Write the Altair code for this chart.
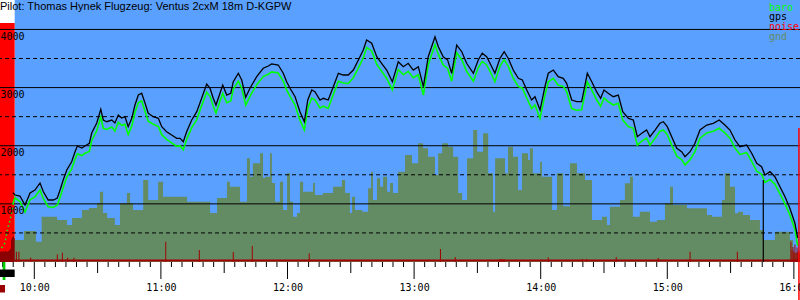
import altair as alt
import pandas as pd

TITLE = "Pilot: Thomas Hynek Flugzeug: Ventus 2cxM 18m D-KGPW"

# time axis: minutes after 10:00
t_track = [-10.2, -9.1, -6.8, -4.4, -2.0, 0.3, 2.7, 4.3, 6.6, 9.0, 10.9, 12.2, 13.7, 15.4, 17.7, 19.3, 20.4,
           22.5, 24.0, 26.1, 27.2, 29.6, 31.5, 32.7, 34.3, 36.7, 38.2, 39.8, 41.4, 43.0, 44.5, 46.2, 47.7,
           49.3, 50.9, 52.5, 54.0, 56.4, 58.8, 60.4, 62.7, 65.1, 67.5, 69.1, 70.6, 72.2, 74.6, 77.0, 79.3,
           81.7, 83.3, 84.8, 86.1, 88.0, 89.3, 91.2, 93.1, 94.3, 96.7, 98.3, 100.2, 102.2, 105.4, 108.5,
           110.9, 112.5, 115.6, 118.0, 119.6, 121.2, 123.6, 125.9, 128.0, 129.6, 131.5, 133.0, 135.4, 137.0,
           139.3, 141.7, 144.1, 146.4, 148.8, 151.2, 153.6, 155.9, 157.5, 159.9, 162.3, 164.6, 167.0, 169.7,
           172.5, 174.9, 177.2, 179.6, 182.0, 184.4, 186.7, 188.3, 189.9, 191.5, 193.8, 195.9, 197.8, 200.2,
           202.6, 204.9, 208.1, 210.4, 212.3, 214.4, 216.8, 218.3, 220.7, 222.7, 224.6, 227.0, 229.4, 231.3,
           233.4, 235.7, 237.3, 239.7, 242.0, 243.6, 246.0, 248.3, 250.7, 252.3, 254.7, 257.1, 259.4, 261.0,
           262.1, 264.2, 266.5, 268.4, 270.0, 272.0, 274.4, 276.8, 278.9, 281.5, 283.9, 285.8, 287.9, 290.2,
           291.8, 294.2, 296.5, 298.1, 300.0, 302.1, 304.5, 306.8, 308.4, 310.8, 313.1, 315.5, 318.7, 321.8,
           324.6, 327.3, 329.7, 332.1, 334.4, 337.6, 340.0, 342.4, 344.7, 346.3, 348.7, 351.0, 353.4, 355.8,
           358.1, 360.5, 361.8]

gps_alt = [1192, 1152, 1135, 980, 1187, 1238, 1359, 1209, 1066, 1066, 1101, 1238, 1410, 1582, 1725, 1897, 1995,
           1961, 1995, 2042, 2219, 2391, 2626, 2442, 2413, 2442, 2391, 2528, 2477, 2499, 2327, 2472, 2700,
           2872, 2902, 2730, 2558, 2499, 2472, 2327, 2241, 2184, 2128, 2128, 2069, 2241, 2442, 2585, 2816,
           3062, 2988, 2816, 2700, 2902, 3044, 2872, 2902, 3101, 3246, 3130, 2833, 2988, 3187, 3332,
           3371, 3406, 3388, 3246, 3101, 2988, 2843, 2585, 2413, 2786, 2958, 2929, 2786, 2816,
           2786, 3015, 3246, 3216, 3216, 3302, 3474, 3646, 3818, 3762, 3531, 3418, 3302, 3101,
           3445, 3359, 3418, 3302, 3359, 3015, 3531, 3703, 3875, 3703, 3531, 3474, 3246, 3732,
           3617, 3418, 3246, 3474, 3590, 3531, 3359, 3246, 3504, 3617, 3504, 3302, 3160, 3130,
           2958, 2786, 2843, 2614, 3015, 3246, 3302, 3187, 3160, 3074, 2786, 2757, 2757, 3044,
           3246, 3101, 2929, 2816, 2958, 2902, 2843, 2872, 2585, 2472, 2442, 2155, 2214, 2270,
           2155, 2270, 2386, 2413, 2327, 2155, 1956, 1897, 1811, 1897, 2042, 2270, 2356, 2386,
           2442, 2356, 2270, 2098, 1983, 2012, 1870, 1698, 1639, 1496, 1553, 1467, 1295, 1123,
           924, 666, 413]

baro_alt = [1000, 1100, 1040, 860, 1070, 1120, 1240, 1090, 950, 940, 980, 1110, 1280, 1460, 1600, 1770, 1860,
            1830, 1870, 1900, 2090, 2260, 2490, 2300, 2280, 2320, 2250, 2400, 2350, 2370, 2190, 2340, 2570,
            2740, 2770, 2590, 2420, 2370, 2330, 2190, 2110, 2050, 1990, 2000, 1930, 2110, 2310, 2450, 2690,
            2920, 2850, 2680, 2560, 2770, 2900, 2740, 2770, 2970, 3110, 2990, 2700, 2850, 3050, 3190,
            3230, 3270, 3250, 3110, 2960, 2850, 2700, 2440, 2270, 2650, 2820, 2790, 2650, 2680,
            2640, 2880, 3110, 3080, 3070, 3170, 3340, 3510, 3690, 3630, 3400, 3280, 3160, 2960,
            3310, 3220, 3280, 3170, 3220, 2870, 3390, 3570, 3740, 3570, 3390, 3330, 3110, 3600,
            3480, 3280, 3110, 3340, 3450, 3390, 3220, 3100, 3370, 3480, 3370, 3160, 3020, 2990,
            2820, 2640, 2700, 2470, 2870, 3100, 3160, 3040, 3020, 2930, 2640, 2610, 2620, 2900,
            3100, 2960, 2790, 2680, 2820, 2760, 2700, 2730, 2440, 2330, 2300, 2010, 2080, 2130,
            2010, 2130, 2250, 2270, 2190, 2010, 1820, 1760, 1670, 1760, 1900, 2130, 2220, 2250,
            2300, 2220, 2130, 1960, 1850, 1880, 1730, 1560, 1510, 1370, 1420, 1340, 1170, 1000,
            810, 560, 280]

# launch (dotted part of the barograph)
launch_t = [-15.5, -13.9, -12.8, -11.5, -10.4, -9.3]
launch_baro = [241, 327, 550, 722, 894, 1152]

# ground elevation under the track
gnd_t = [-9.6, -4.9, 0.8, 3.5, 10.8, 15.5, 17.9, 22.6, 25.9, 29.7, 31.1, 32.6, 34.5, 38.2, 40.6, 43.9, 45.4,
         46.8, 51.6, 54.0, 58.7, 61.0, 72.4, 83.3, 86.6, 91.3, 92.7, 97.5, 100.8, 102.2, 103.6, 107.0, 108.4,
         109.3, 111.7, 112.6, 114.1, 116.4, 117.9, 119.8, 121.2, 122.6, 124.5, 125.9, 127.4, 132.1, 133.0,
         136.8, 141.6, 145.8, 147.3, 149.6, 150.6, 152.0, 155.4, 158.2, 159.6, 160.5, 162.4, 163.9, 165.3,
         167.2, 168.6, 170.0, 172.4, 175.7, 179.0, 181.9, 184.3, 186.6, 189.9, 191.4, 193.3, 196.1, 198.5,
         200.9, 202.8, 205.1, 208.0, 209.9, 212.7, 215.1, 217.4, 218.4, 223.1, 224.5, 226.9, 229.3, 231.1,
         234.0, 234.9, 236.3, 239.7, 240.6, 245.4, 247.7, 250.6, 253.9, 257.2, 261.0, 264.3, 269.1, 271.4,
         272.8, 277.6, 279.9, 282.3, 283.7, 287.0, 291.8, 295.1, 298.9, 301.3, 302.7, 309.3, 318.8, 321.2,
         325.9, 327.3, 329.7, 332.1, 333.5, 335.9, 339.2, 343.9, 345.4, 351.0, 358.1, 359.6, 362.9]
gnd_alt = [378, 533, 349, 779, 722, 636, 757, 894, 929, 1015, 1209, 843, 757, 636, 1015, 1187, 1015,
           894, 1410, 1066, 1381, 1123, 1037, 843, 1101, 1381, 1295, 1037, 1784, 1467, 1698, 1870, 1445,
           1467, 1870, 1359, 1037, 1381, 894, 1526, 1037, 779, 843, 1381, 1209, 1359, 1153,
           1187, 1295, 1410, 1187, 843, 1123, 894, 865, 1268, 1553, 1066, 1440, 1295, 1467,
           1209, 1359, 1187, 1553, 1840, 1698, 2042, 1956, 1811, 1496, 1870, 2042, 1983, 1811,
           1187, 1066, 1784, 2270, 1897, 2214, 1526, 865, 1784, 1526, 1983, 1811, 1238, 1870,
           1754, 1956, 1526, 1725, 1467, 894, 1526, 957, 1698, 1526, 1410, 722, 779, 636,
           951, 1066, 1354, 1467, 779, 865, 693, 722, 1010, 1295, 980, 924, 808, 779,
           1066, 1526, 1295, 838, 865, 808, 722, 550, 378, 521, 378, 155, 155]

# engine / noise recording
tow_noise_t = [-16.26, -15.78, -15.31, -14.83, -14.36, -13.89, -13.41, -12.94, -12.46, -11.99, -11.52,
               -11.04, -10.57, -10.09, -9.62, -9.3]
tow_noise_v = [170, 190, 175, 185, 180, 195, 180, 175, 190, 200, 230, 390, 430, 445, 410, 410]
spike_t = [-8.5, -7.3, -1.7, 10.9, 13.3, 15.8, 18.8, 62.3, 78.2, 94.3, 103.3, 130.3, 192.5, 199.5, 220.7,
           221.7, 222.6, 243.6, 259.7, 261.8, 275.8, 295.7, 310.8, 333.2,
           358.6, 359.1, 359.6, 360.0, 360.5, 361.0, 361.5, 361.9, 362.4, 362.9]
spike_v = [177, 177, 74, 132, 160, 74, 74, 349, 206, 172, 275, 150, 224, 86, 52,
           52, 52, 81, 52, 52, 86, 69, 177, 177,
           349, 206, 260, 180, 300, 160, 250, 180, 200, 150]
noise_floor = 26

flight_start, flight_end = -9.3, 362.9
engine_top = 4111
finish_t, finish_alt = 345.5, 1410
landing_t, landing_top, landing_bottom = 362.4, 2305, -654

solid_levels = [1000, 2000, 3000, 4000]
dashed_levels = [500, 1500, 2500, 3500]
hour_ticks = [0, 60, 120, 180, 240, 300, 360]
half_ticks = [-30, 30, 90, 150, 210, 270, 330]
minor_ticks = [m for m in range(-15, 361, 5) if m % 30 != 0]

legend_names = ["baro", "gps", "noise", "gnd"]
legend_colors = ["#00ff00", "#000000", "#ff0000", "#648c64"]

BLUE = "#5aa0ff"
GND = "#648c64"
DARKRED = "#a00000"

XDOM = [-16.26, 362.9]
YDOM = [0, 4506.4]

xs = alt.Scale(domain=XDOM, nice=False, zero=False)
ys = alt.Scale(domain=YDOM, nice=False, zero=False)

xaxis = alt.Axis(values=hour_ticks, labelExpr="(10 + floor(datum.value / 60)) + ':00'",
                 domain=False, ticks=False, tickSize=0, grid=False, title=None, labelFont="DejaVu Sans Mono",
                 labelFontSize=10, labelColor="black", labelPadding=28, labelBaseline="alphabetic",
                 labelFlush=False, labelOverlap=False, labelBound=False, zindex=2)
yaxis = alt.Axis(values=solid_levels, format="d", domain=False, ticks=False, tickSize=0, grid=False,
                 title=None, labelAlign="left", labelBaseline="alphabetic", labelPadding=0, labelOffset=10,
                 labelFont="DejaVu Sans Mono", labelFontSize=10, labelColor="black",
                 labelFlush=False, labelOverlap=False, labelBound=False, zindex=2)

X = lambda f: alt.X(f, type="quantitative", scale=xs, axis=None)
Y = lambda f: alt.Y(f, type="quantitative", scale=ys, axis=None)

track = pd.DataFrame({"t": t_track, "gps": gps_alt, "baro": baro_alt})
launch = pd.DataFrame({"t": launch_t, "baro": launch_baro})
gnd = pd.DataFrame({"t": gnd_t, "g": gnd_alt})
tow = pd.DataFrame({"t": tow_noise_t, "n": tow_noise_v})
spikes = pd.DataFrame({"t": spike_t, "n": spike_v})
one = pd.DataFrame({"a": [0]})

blue_bg = alt.Chart(pd.DataFrame({"t0": [flight_start], "t1": [XDOM[1]]})).mark_rect(color=BLUE).encode(
    x=alt.X("t0:Q", scale=xs, axis=xaxis), x2="t1:Q", y=alt.value(0), y2=alt.value(262))
red_bg = alt.Chart(pd.DataFrame({"t0": [XDOM[0]], "t1": [flight_start], "top": [engine_top]})).mark_rect(
    color="#ff0000").encode(x=X("t0"), x2="t1:Q", y=alt.Y("top:Q", scale=ys, axis=yaxis), y2=alt.datum(0))

gnd_area = alt.Chart(gnd).mark_area(color=GND, interpolate="step-after").encode(
    x=X("t"), y=Y("g"), y2=alt.datum(0))

tow_area = alt.Chart(tow).mark_area(color="#8b0000", interpolate="step-after").encode(
    x=X("t"), y=Y("n"), y2=alt.datum(0))
spike_rules = alt.Chart(spikes).mark_rule(color=DARKRED, strokeWidth=1).encode(
    x=X("t"), y=Y("n"), y2=alt.datum(0))
floor_line = alt.Chart(pd.DataFrame({"t0": [flight_start], "t1": [XDOM[1]], "n": [noise_floor]})).mark_rule(
    color=DARKRED, strokeWidth=2).encode(x=X("t0"), x2="t1:Q", y=Y("n"))

solid_grid = alt.Chart(pd.DataFrame({"lv": solid_levels})).mark_rule(color="black", strokeWidth=1).encode(
    y=Y("lv"))
dashed_grid = alt.Chart(pd.DataFrame({"lv": dashed_levels})).mark_rule(
    color="black", strokeWidth=1, strokeDash=[4, 3]).encode(y=Y("lv"))

launch_line = alt.Chart(launch).mark_line(color="#00ff00", strokeWidth=1.5, strokeDash=[1.5, 3]).encode(
    x=X("t"), y=Y("baro"))
baro_line = alt.Chart(track).mark_line(color="#00ff00", strokeWidth=1.6).encode(x=X("t"), y=Y("baro"))
gps_line = alt.Chart(track).mark_line(color="black", strokeWidth=1.3).encode(x=X("t"), y=Y("gps"))

finish_rule = alt.Chart(pd.DataFrame({"t": [finish_t], "v": [finish_alt]})).mark_rule(
    color="black", strokeWidth=1.2).encode(x=X("t"), y=Y("v"), y2=alt.datum(0))
landing_rule = alt.Chart(pd.DataFrame({"t": [landing_t], "v": [landing_top], "b": [landing_bottom]})).mark_rule(
    color="#ff0000", strokeWidth=1.5).encode(x=X("t"), y=Y("v"), y2="b:Q")

tick_minor = alt.Chart(pd.DataFrame({"t": minor_ticks})).mark_rule(color="black", strokeWidth=1).encode(
    x=X("t"), y=alt.value(262), y2=alt.value(267))
tick_half = alt.Chart(pd.DataFrame({"t": half_ticks})).mark_rule(color="black", strokeWidth=1).encode(
    x=X("t"), y=alt.value(262), y2=alt.value(273))
tick_hour = alt.Chart(pd.DataFrame({"t": hour_ticks})).mark_rule(color="black", strokeWidth=1).encode(
    x=X("t"), y=alt.value(262), y2=alt.value(279))

# status indicators below the engine zone
ind_green = alt.Chart(pd.DataFrame({"t0": [-15.0], "t1": [-13.7]})).mark_rect(color="#00cc00").encode(
    x=X("t0"), x2="t1:Q", y=alt.value(262), y2=alt.value(280))
ind_black = alt.Chart(pd.DataFrame({"t0": [XDOM[0]], "t1": [flight_start]})).mark_rect(color="black").encode(
    x=X("t0"), x2="t1:Q", y=alt.value(269.5), y2=alt.value(277))
ind_red = alt.Chart(pd.DataFrame({"t0": [XDOM[0]], "t1": [-13.9]})).mark_rect(color="#9b0000").encode(
    x=X("t0"), x2="t1:Q", y=alt.value(285), y2=alt.value(292.5))

title_txt = alt.Chart(one).mark_text(text=TITLE, font="Liberation Sans", fontSize=11, align="left",
                                     baseline="alphabetic", color="black").encode(
    x=alt.value(0), y=alt.value(9.5))

legend = pd.DataFrame({"name": legend_names, "color": legend_colors, "row": list(range(len(legend_names)))})
legend_txt = alt.Chart(legend).mark_text(font="DejaVu Sans Mono", fontSize=10, align="left",
                                         baseline="alphabetic").encode(
    x=alt.value(769),
    y=alt.Y("row:Q", scale=alt.Scale(domain=[0, len(legend_names) - 1], range=[10.5, 40.0]), axis=None),
    text="name:N",
    color=alt.Color("color:N", scale=None))

chart = alt.layer(
    blue_bg, red_bg, gnd_area, tow_area, spike_rules, floor_line, solid_grid, dashed_grid,
    launch_line, baro_line, gps_line, finish_rule, landing_rule,
    tick_minor, tick_half, tick_hour, ind_green, ind_black, ind_red, title_txt, legend_txt
).resolve_scale(x="independent", y="independent").properties(
    width=800, height=262, background="white",
    padding={"left": 0, "top": 0, "right": 0, "bottom": 38},
    autosize=alt.AutoSizeParams(type="none")
).configure_view(strokeWidth=0)

chart.save("out.html", embed_options={"renderer": "svg", "actions": False})
